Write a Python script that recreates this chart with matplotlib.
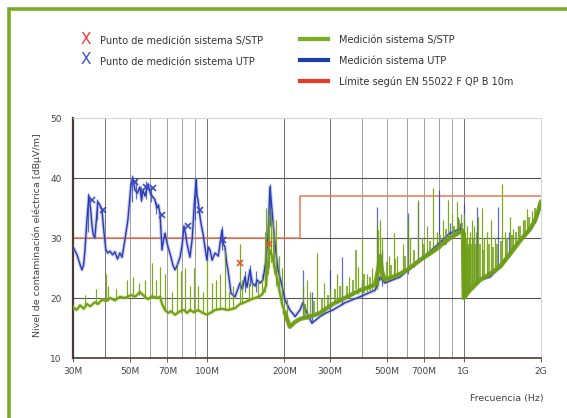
import matplotlib.pyplot as plt
import matplotlib.ticker
import matplotlib.lines
import matplotlib.patches
import numpy as np

# ---- data (frequency in MHz, level in dB(uV/m)) ----

utp_freq = [30, 31.1, 32.0, 32.5, 33.0, 33.4, 34.0, 34.6, 35.1, 35.6, 36.0, 36.5, 37.0, 37.5,
            38.2, 38.9, 39.6, 40.3, 41.0, 41.8, 42.8, 43.7, 44.7, 45.7, 46.6, 47.8, 49.1,
            50.5, 51.4, 52.3, 53.5, 54.7, 55.5, 56.2, 57.2, 58.8, 60.0, 61.0, 62.4, 63.8,
            64.6, 65.5, 66.7, 67.5, 68.5, 69.5, 70.4, 72.3, 73.5, 74.9, 76.5, 78.4, 80.0,
            81.2, 82.5, 83.5, 85.7, 87.5, 88.9, 90.5, 91.3, 92.1, 93.8, 95.0, 96.3, 98.0,
            99.8, 101, 102.6, 104.5, 107.3, 110.5, 114.2, 115.7, 117.3, 119, 120.5, 123.8,
            128.4, 134.3, 137, 140.4, 143, 146.9, 150, 153.6, 157, 160.6, 165, 167, 169.5,
            172.6, 175.7, 178.9, 183.8, 188.8, 195.7, 201, 210, 215, 220, 230, 236, 245,
            256, 268, 275, 290, 309, 344, 394, 451, 472, 493, 564, 675, 773, 884, 967, 993,
            1000, 1057, 1157, 1265, 1384, 1514, 1656, 1812, 1900, 2000]
utp_level = [28.5, 27.2, 25.5, 24.7, 25.5, 28, 33, 37, 35, 32, 30.5, 30, 33, 36,
             35.5, 34.7, 31, 28, 27.5, 27.8, 27.2, 27.7, 26.5, 27.5, 26.8, 29.7, 33,
             39, 40, 38, 37.5, 38.5, 36.3, 38, 37, 39, 37.5, 37, 36.5, 35,
             35.5, 34, 28, 29.5, 30.8, 29.5, 28.5, 26.8, 25.5, 24.7, 25.5, 26.8, 29,
             32, 30.5, 29, 26.8, 30, 35, 39.7, 37, 36.3, 33.5, 32, 30.8, 28.5,
             26.3, 28.5, 28, 26.3, 27.5, 27, 31.3, 29, 28.5, 26, 24.7, 20.8,
             20.2, 22.5, 21.5, 23.5, 21.8, 24.7, 22.5, 22, 23, 22.5, 23, 24.5, 26.3,
             30.2, 38.5, 34.7, 29, 24.7, 22, 19.7, 18, 17.5, 16.9, 18, 19.2, 17.5,
             15.8, 16.5, 16.9, 17.5, 18, 19.2, 20.2, 21.3, 23.5, 22.5, 23.5, 26.3, 28.5, 30.8, 31.5, 31,
             20.5, 21.5, 23, 23.5, 25.2, 27.5, 29.7, 31.3, 33, 35.5]

stp_freq = [30, 31, 32, 33, 34, 35, 36.5, 37.5, 38.9, 40.3, 41.8, 43.7, 45.7, 47.8, 50.5,
            52.3, 54.7, 56.2, 58.8, 61, 63.8, 65.5, 66.7, 68.5, 70.4, 72.3, 74.9, 78.4,
            81.2, 83.5, 85.7, 88.9, 92.1, 96.3, 99.8, 102.6, 107.3, 114.2, 120.5, 128.4,
            134.3, 140.4, 146.9, 153.6, 160.6, 165, 169.5, 172.6, 175.7, 178.9, 183.8,
            188.8, 195.7, 201, 210, 220, 230, 256, 275, 309, 344, 394, 451, 465, 472, 480,
            493, 564, 606, 675, 773, 884, 967, 993, 1000, 1057, 1157, 1265, 1384, 1514,
            1656, 1812, 1900, 2000]
stp_level = [18.5, 18, 18.8, 18.2, 19, 18.6, 19.3, 19, 19.7, 19.5, 20, 19.6, 20.2, 20, 20.5,
             20.2, 21, 20.5, 19.8, 20.3, 20, 20.2, 19, 18, 17.5, 17.8, 17.2, 17.8,
             18, 17.5, 18, 17.6, 18, 17.5, 17.2, 17.5, 18, 18.2, 18, 18.3,
             19, 19.3, 19.7, 20, 20.3, 20.8, 22, 26, 28, 27, 25,
             22.5, 19, 17.5, 15.2, 16, 16.5, 17, 17.5, 19, 20, 21.3, 22.2, 25, 27, 24.5,
             23, 24, 24.8, 26.3, 28, 30, 31, 31.2, 20, 21.3, 23, 24, 25.2, 27.3,
             29.5, 31.5, 33, 36]

# narrow peaks on top of the traces: frequency, foot, top
stp_spike_f = [33.5, 37, 40.3, 41.2, 44, 48.5, 51.5, 54, 57.5, 61, 63, 65.5, 68.5, 73, 76.5,
               79, 82, 85.7, 88.9, 92, 96.5, 99.8, 104, 108, 112, 117, 122, 126, 134.3, 137,
               145, 150, 158, 164, 168, 170, 172.6, 174, 177, 180, 182, 186, 190, 196, 205,
               236, 246, 252, 268, 285, 300, 320, 335, 358, 387, 401, 420, 440, 459, 465,
               472, 480, 510, 535, 550, 580, 606, 620, 663, 690, 720, 759, 790, 830, 868,
               900, 941, 975, 1003, 1010, 1020, 1030, 1045, 1060, 1080, 1100, 1120, 1140,
               1178, 1200, 1230, 1280, 1320, 1409, 1450, 1514, 1560, 1620, 1700, 1764,
               1850, 1950]
stp_spike_lo = [18.5, 19, 19.5, 19.5, 19.8, 20, 20.3, 20.5, 20.2, 20, 20, 20, 18, 17.5, 17.5,
                17.5, 17.8, 17.8, 17.6, 17.8, 17.5, 17.2, 17.5, 18, 18.2, 18, 18, 18.2, 19, 19,
                19.5, 19.8, 20, 20.5, 21, 22, 24, 25, 26, 25, 24, 22, 21, 19, 16,
                16.5, 16.5, 16.8, 17.2, 17.5, 18.8, 19.2, 19.7, 20.2, 20.6, 20.8, 21, 21.3, 21.5, 22,
                23, 23, 23.3, 24, 24, 24.3, 24.8, 25, 26, 26.5, 27, 27.8, 28, 29, 29.6,
                30, 30.5, 30.8, 20, 20.2, 20.4, 20.6, 21, 21.3, 21.7, 22, 22.4, 22.7,
                23.2, 23.4, 23.5, 24, 24.4, 25.4, 26, 27.3, 28, 29, 30, 30.8,
                32, 34]
stp_spike_hi = [20.5, 21.5, 24, 22, 21.5, 23, 23.5, 22.5, 23, 25.8, 23, 25.2, 24, 21, 25.8,
                24.5, 25, 22, 25, 22, 21, 26.3, 22.5, 23, 24, 28, 21, 22, 29, 23,
                22.5, 22.5, 23, 24, 31, 35, 34, 33, 35, 33, 31, 33, 27, 25, 20,
                22, 23, 21, 27.5, 22.5, 21.5, 24, 22.5, 23.5, 25.2, 30, 24, 25, 32, 31.3,
                33, 30, 27, 30.8, 27, 29, 33, 30, 36.3, 30, 32, 38.3, 31, 33, 36.3,
                34, 36, 34, 34, 31, 30, 32, 30, 31, 33, 32, 31, 33.5,
                35, 30, 31, 33, 30, 39, 31, 33.5, 31.5, 32, 33, 34.8,
                34.5, 36]

# short bursts that make the green band look bushy above 200 MHz
stp_fuzz_f = [240, 262, 280, 295, 315, 330, 350, 370, 380, 410, 430, 500, 520, 540, 590, 640,
              700, 740, 810, 850, 920, 955, 985, 1005, 1015, 1025, 1040, 1050, 1070, 1090,
              1110, 1130, 1160, 1190, 1250, 1300, 1350, 1400, 1480, 1540, 1600, 1660, 1730,
              1800, 1900]
stp_fuzz_lo = [16.5, 17, 17.4, 18.5, 19, 19.5, 20, 20.4, 21.5, 20.9, 21.1, 23, 23.2, 23.5, 24.2,
               25, 26.5, 27, 28.2, 28.8, 30.3, 30.6, 31, 20, 20.3, 20.5, 20.8, 21.1, 21.5, 21.9,
               22.2, 22.5, 23, 23.4, 23.8, 24.2, 24.6, 25.3, 26.6, 27.5, 28.5, 29.5, 30.5,
               31.2, 33]
stp_fuzz_hi = [19, 19.5, 20, 20.5, 21.5, 22, 22, 23, 28, 24, 23.5, 26, 25.5, 26.5, 27, 28,
               29, 29.5, 30.5, 31.5, 32, 33, 32.5, 29, 30, 28, 29, 28.5, 29, 30,
               29, 28.5, 29, 28, 29, 28.5, 29, 29.5, 30, 30.5, 31, 32, 33,
               33.5, 35]

utp_spike_f = [34.2, 37.3, 50.8, 52.8, 55, 58, 60.5, 63, 89.5, 90.8, 114, 140, 147, 155, 175.7,
               236, 256, 302, 335, 401, 459, 480, 606, 663, 801, 884, 950, 967, 1000, 1126,
               1360, 1500, 1895]
utp_spike_lo = [31, 33, 36, 36.5, 36, 36.5, 36, 34, 33, 37, 28, 21, 22, 21, 32,
                17.5, 16, 18, 18.8, 20.2, 21.5, 22, 24, 26, 28.5, 30, 31, 31, 20.5, 22.5,
                25, 27, 32.5]
utp_spike_hi = [37.5, 36.5, 40.5, 40, 38.5, 39.5, 38.5, 36, 37, 40, 32, 24.5, 25.5, 24.5, 39,
                24.7, 21, 24.7, 26.8, 23, 35.2, 28, 34.2, 36, 38, 32.5, 33.5, 32.5, 35.8, 35.2,
                35.2, 31, 34]

# measurement points (X markers)
utp_mark_f = [35.5, 39.2, 52.3, 57.7, 61.5, 66.7, 84.3, 93.8, 114.9]
utp_mark_level = [36.3, 34.7, 39.3, 38.5, 38.3, 33.8, 32.0, 34.7, 29.7]
stp_mark_f = [134.3, 174]
stp_mark_level = [25.9, 29.0]

# limit EN 55022 class B, 10 m
limit_freq = [30, 230, 230, 2000]
limit_level = [30, 30, 37, 37]

tick_freq = [30, 50, 70, 100, 200, 300, 500, 700, 1000, 2000]
tick_labels = ["30M", "50M", "70M", "100M", "200M", "300M", "500M", "700M", "1G", "2G"]
grid_freq = [40, 50, 60, 70, 80, 90, 100, 200, 300, 400, 500, 600, 700, 800, 900, 1000]

green = "#6e9e18"
green_light = "#b3cf55"
blue = "#2a3cb2"
blue_light = "#8a94da"
red = "#ee7755"
txt = "#444444"

plt.rcParams['font.family'] = ['Liberation Sans Narrow', 'DejaVu Sans']

fig = plt.figure(figsize=(5.67, 4.18), dpi=100)
fig.patch.set_facecolor("white")

# green frame of the scanned page
frame = matplotlib.patches.Rectangle((9 / 567, -0.1), 1.2, (1 - 9 / 418) + 0.1, transform=fig.transFigure,
                                     fill=False, edgecolor="#7aaa28", linewidth=2.6)
fig.patches.append(frame)

axes = fig.add_axes([73 / 567, 1 - 358 / 418, 468 / 567, 240 / 418])
axes.set_xscale("log")
axes.set_xlim(30, 2000)
axes.set_ylim(10, 50)

# grid
for f in grid_freq:
    dark = f in (40, 100, 200, 300, 1000)
    axes.axvline(f, color="#707070" if dark else "#a0a0a0", linewidth=0.7, zorder=1)
for v in [20, 30, 40]:
    axes.axhline(v, color="#555555", linewidth=0.8, zorder=1)

# limit line
axes.plot(limit_freq, limit_level, color=red, linewidth=1.1, zorder=2)

# S/STP trace, light part (green)
axes.plot(stp_freq, stp_level, color=green_light, linewidth=2.6, alpha=0.6, zorder=3)
axes.vlines(stp_spike_f, stp_spike_lo, stp_spike_hi, color=green_light, linewidth=1.0, zorder=3)

# UTP trace (blue)
axes.plot(utp_freq, utp_level, color=blue_light, linewidth=2.6, alpha=0.45, zorder=4)
axes.plot(utp_freq, utp_level, color=blue, linewidth=1.0, zorder=4)
axes.vlines(utp_spike_f, utp_spike_lo, utp_spike_hi, color=blue, linewidth=0.9, alpha=0.75, zorder=4)

# green drawn over blue above 200M, as in the original
axes.plot(stp_freq, stp_level, color=green, linewidth=1.4, zorder=5)
axes.plot(stp_freq[53:], stp_level[53:], color=green, linewidth=3.2, alpha=0.85, zorder=5)
axes.vlines(stp_spike_f, stp_spike_lo, stp_spike_hi, color=green, linewidth=0.7, alpha=0.8, zorder=5)
axes.vlines(stp_fuzz_f, stp_fuzz_lo, stp_fuzz_hi, color=green, linewidth=1.3, alpha=0.85, zorder=5)

axes.plot(utp_mark_f, utp_mark_level, linestyle="none", marker="x", markersize=5,
          markeredgewidth=1.2, color="#3a4cc0", zorder=6)
axes.plot(stp_mark_f, stp_mark_level, linestyle="none", marker="x", markersize=5,
          markeredgewidth=1.2, color="#e8502a", zorder=6)

# axes, ticks
axes.xaxis.set_major_locator(matplotlib.ticker.FixedLocator(tick_freq))
axes.xaxis.set_major_formatter(matplotlib.ticker.FixedFormatter(tick_labels))
axes.xaxis.set_minor_locator(matplotlib.ticker.NullLocator())
axes.yaxis.set_major_locator(matplotlib.ticker.MultipleLocator(base=10))
axes.tick_params(axis="both", labelsize=6.5, colors=txt, length=3, width=0.6)
axes.tick_params(axis="y", length=0, pad=8)
for s in ["top", "right"]:
    axes.spines[s].set_color("#d8d8d8")
    axes.spines[s].set_linewidth(0.8)
axes.spines["left"].set_color("#4a3a30")
axes.spines["left"].set_linewidth(1.6)
axes.spines["bottom"].set_color("#4a3a30")
axes.spines["bottom"].set_linewidth(1.2)

fig.text(37 / 567, 1 - 235 / 418, "Nivel de contaminación eléctrica [dBµV/m]", rotation=90,
         ha="center", va="center", fontsize=6.8, color=txt)
fig.text(507 / 567, 1 - 398 / 418, "Frecuencia (Hz)", ha="center", va="center", fontsize=6.8, color=txt)

# legend drawn by hand to keep the two-column layout
fig.text(86 / 567, 1 - 39 / 418, "X", color="#f03a2a", fontsize=11, ha="center", va="center")
fig.text(86 / 567, 1 - 60 / 418, "X", color="#3a50d0", fontsize=11, ha="center", va="center")
fig.text(100 / 567, 1 - 41 / 418, "Punto de medición sistema S/STP", fontsize=7, color="#333333", va="center")
fig.text(100 / 567, 1 - 62 / 418, "Punto de medición sistema UTP", fontsize=7, color="#333333", va="center")
for yy, col, lab in [(39, "#78b020", "Medición sistema S/STP"),
                     (60, "#1a3ab0", "Medición sistema UTP"),
                     (81, "#e83a25", "Límite según EN 55022 F QP B 10m")]:
    fig.add_artist(matplotlib.lines.Line2D([300 / 567, 328 / 567], [1 - yy / 418, 1 - yy / 418],
                                           color=col, linewidth=3, transform=fig.transFigure))
    fig.text(339 / 567, 1 - (yy + 1) / 418, lab, fontsize=7, color="#333333", va="center")

fig.savefig("out.png", dpi=100)
